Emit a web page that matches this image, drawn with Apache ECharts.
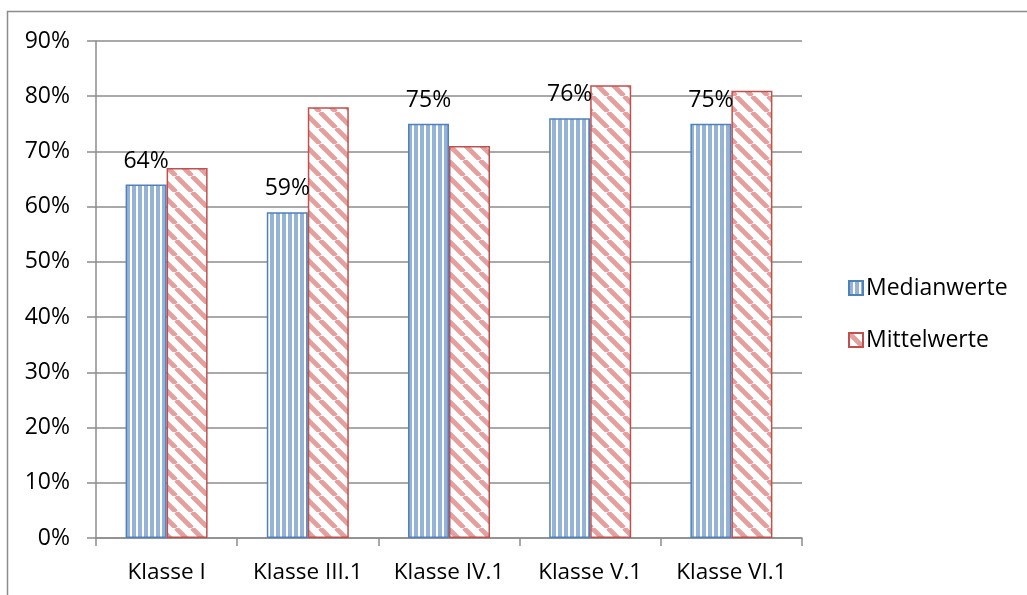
<!DOCTYPE html>
<html>
<head>
<meta charset="utf-8">
<script src="https://cdn.jsdelivr.net/npm/echarts@6/dist/echarts.min.js"></script>
<style>
  html, body { margin: 0; padding: 0; background: #ffffff; }
  #chart { width: 1027px; height: 595px; }
</style>
</head>
<body>
<div id="chart"></div>
<script>
// Class names along the x axis
const categories = ['Klasse I', 'Klasse III.1', 'Klasse IV.1', 'Klasse V.1', 'Klasse VI.1'];
// Median values per class (fractions)
const medianValues = [0.64, 0.59, 0.75, 0.76, 0.75];
// Mean values per class (fractions)
const meanValues = [0.67, 0.78, 0.71, 0.82, 0.81];
// Y axis tick range
const yTicks = { min: 0, max: 0.9, step: 0.1 };

const FONT = '"Open Sans", "DejaVu Sans", sans-serif';
const GRID_GRAY = '#8c8c8c';

// Blue fill with thin white vertical stripes
function verticalStripes() {
  const c = document.createElement('canvas');
  c.width = 6; c.height = 6;
  const g = c.getContext('2d');
  g.fillStyle = '#95b3d7';
  g.fillRect(0, 0, 6, 6);
  g.fillStyle = '#ffffff';
  g.fillRect(4, 0, 2, 6);
  return c;
}

// White fill with light red diagonal stripes running top-left to bottom-right
function diagonalStripes() {
  const P = 16;
  const c = document.createElement('canvas');
  c.width = P; c.height = P;
  const g = c.getContext('2d');
  g.fillStyle = '#ffffff';
  g.fillRect(0, 0, P, P);
  g.strokeStyle = '#e3a09e';
  g.lineWidth = 4.8;
  for (let k = -1; k <= 1; k++) {
    g.beginPath();
    g.moveTo(k * P, 0);
    g.lineTo(k * P + P, P);
    g.stroke();
  }
  return c;
}

const chart = echarts.init(document.getElementById('chart'), null, { renderer: 'canvas' });

const pct = v => Math.round(v * 100) + '%';

chart.setOption({
  backgroundColor: '#ffffff',
  animation: false,
  textStyle: { fontFamily: FONT },
  graphic: [{
    type: 'rect',
    shape: { x: 7.5, y: 11.5, width: 1200, height: 800 },
    style: { fill: null, stroke: '#8c8c8c', lineWidth: 1.5 },
    silent: true
  }],
  grid: { left: 96, right: 225, top: 41, bottom: 57, containLabel: false },
  legend: {
    orient: 'vertical',
    left: 843,
    top: 268,
    itemWidth: 14,
    itemHeight: 14,
    itemGap: 22,
    icon: 'rect',
    textStyle: { fontFamily: FONT, fontSize: 23, color: '#000000', lineHeight: 30, padding: [0, 0, 0, -2] },
    data: ['Medianwerte', 'Mittelwerte']
  },
  xAxis: {
    type: 'category',
    data: categories,
    axisLine: { show: true, lineStyle: { color: GRID_GRAY, width: 1.5 } },
    axisTick: { show: true, interval: 0, length: 8, lineStyle: { color: GRID_GRAY, width: 1.5 } },
    axisLabel: { interval: 0, fontFamily: FONT, fontSize: 22.5, color: '#000000', margin: 23 },
    splitLine: { show: false }
  },
  yAxis: {
    type: 'value',
    min: yTicks.min,
    max: yTicks.max,
    interval: yTicks.step,
    axisLine: { show: true, lineStyle: { color: GRID_GRAY, width: 1.5 } },
    axisTick: { show: true, length: 9, lineStyle: { color: GRID_GRAY, width: 1.5 } },
    axisLabel: { fontFamily: FONT, fontSize: 23, color: '#000000', margin: 26, formatter: v => pct(v) },
    splitLine: { show: true, lineStyle: { color: GRID_GRAY, width: 1.5 } }
  },
  series: [
    {
      name: 'Medianwerte',
      type: 'bar',
      data: medianValues,
      barWidth: 41,
      barGap: '0%',
      itemStyle: {
        color: { image: verticalStripes(), repeat: 'repeat' },
        borderColor: '#4f81bd',
        borderWidth: 1.5
      },
      label: {
        show: true,
        position: 'top',
        distance: 12,
        fontFamily: FONT,
        fontSize: 23,
        color: '#000000',
        formatter: p => pct(p.value)
      }
    },
    {
      name: 'Mittelwerte',
      type: 'bar',
      data: meanValues,
      barWidth: 41,
      barGap: '0%',
      itemStyle: {
        color: { image: diagonalStripes(), repeat: 'repeat' },
        borderColor: '#c0504d',
        borderWidth: 1.5
      }
    }
  ]
});
</script>
</body>
</html>
